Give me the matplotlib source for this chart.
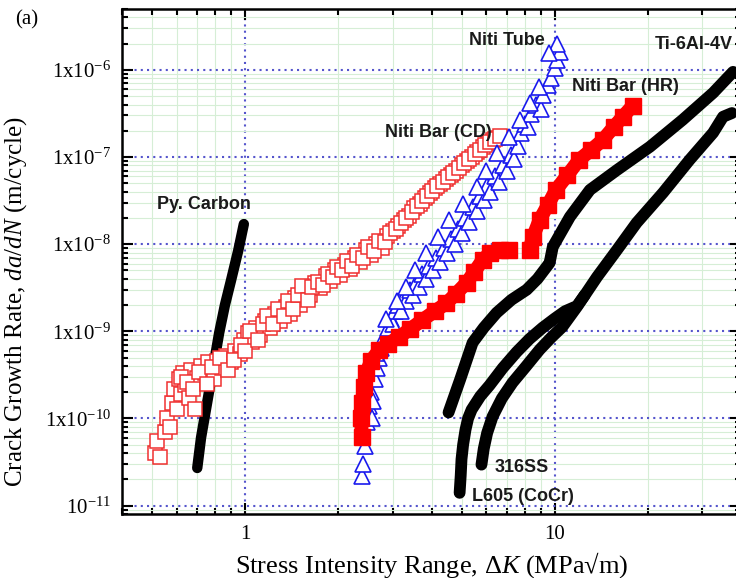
import matplotlib
matplotlib.use('Agg')
import matplotlib.pyplot as plt
from matplotlib.ticker import LogLocator, FixedLocator, FixedFormatter, NullFormatter

plt.rcParams['mathtext.fontset'] = 'custom'
plt.rcParams['mathtext.rm'] = 'Liberation Serif'
plt.rcParams['mathtext.it'] = 'Liberation Serif:italic'

# crack growth data, dK in MPa*sqrt(m), da/dN in m/cycle
py_dk = [0.70, 0.72, 0.753, 0.79, 0.824, 0.86, 0.901, 0.95, 0.99]
py_rate = [2.7e-11, 6.0e-11, 1.5e-10, 4.0e-10, 9.6e-10, 2.0e-9, 3.9e-9, 8.5e-9, 1.7e-8]

cd_dk = [0.51, 0.52, 0.53, 0.55, 0.56, 0.57, 0.58, 0.59, 0.60, 0.61, 0.62, 0.63,
         0.64, 0.66, 0.67, 0.69, 0.70, 0.72, 0.74, 0.76, 0.79, 0.81, 0.84, 0.87,
         0.90, 0.93, 0.96, 0.99, 1.02, 1.05, 1.08, 1.12, 1.16, 1.20, 1.25, 1.30,
         1.35, 1.40, 1.45, 1.50, 1.56, 1.62, 1.68, 1.75, 1.82, 1.88, 1.95, 2.02,
         2.10, 2.18, 2.26, 2.35, 2.45, 2.55, 2.65, 2.76, 2.88, 3.00, 3.12, 3.25,
         3.38, 3.52, 3.66, 3.80, 3.95, 4.10, 4.27, 4.44, 4.62, 4.80, 5.00, 5.20,
         5.40, 5.62, 5.85, 6.08, 6.30, 6.55, 6.80,
         0.62, 0.65, 0.68, 0.71, 0.75, 0.78, 0.83, 0.88, 0.92, 0.97, 1.00, 1.04,
         1.10, 1.14, 1.18, 1.23, 1.28, 1.33, 1.38, 1.43, 1.48, 1.53, 1.59, 1.65,
         1.72, 1.78, 1.85, 1.92, 1.98, 2.06, 2.14, 2.22, 2.30, 2.40, 2.50, 2.60,
         2.70, 2.82, 2.94, 3.06, 3.18, 3.31, 3.45, 3.59, 3.73, 3.88, 4.02, 4.18,
         4.35, 4.53, 4.71, 4.90, 5.10, 5.30, 5.51, 5.74, 5.96, 6.19, 6.42, 6.68]
cd_rate = [4.0e-11, 5.5e-11, 3.6e-11, 7.0e-11, 1.0e-10, 8.0e-11, 1.5e-10, 2.2e-10,
           1.3e-10, 2.8e-10, 1.9e-10, 3.3e-10, 2.4e-10, 1.7e-10, 3.6e-10, 1.3e-10,
           2.9e-10, 4.0e-10, 3.3e-10, 4.5e-10, 2.8e-10, 4.6e-10, 3.8e-10, 5.2e-10,
           4.4e-10, 6.0e-10, 5.5e-10, 8.0e-10, 9.5e-10, 7.5e-10, 1.1e-9, 9.0e-10,
           1.3e-9, 1.1e-9, 1.6e-9, 1.3e-9, 1.9e-9, 1.6e-9, 2.4e-9, 2.0e-9, 3.0e-9,
           2.6e-9, 3.6e-9, 3.1e-9, 4.3e-9, 3.8e-9, 5.0e-9, 4.4e-9, 5.8e-9, 5.2e-9,
           7.0e-9, 6.2e-9, 8.5e-9, 7.6e-9, 1.0e-8, 9.0e-9, 1.25e-8, 1.4e-8, 1.6e-8,
           1.9e-8, 2.1e-8, 2.6e-8, 2.9e-8, 3.4e-8, 3.9e-8, 4.4e-8, 4.9e-8, 5.6e-8,
           6.2e-8, 7.0e-8, 8.0e-8, 9.0e-8, 1.0e-7, 1.15e-7, 1.3e-7, 1.45e-7, 1.55e-7,
           1.65e-7, 1.7e-7,
           3.0e-10, 2.6e-10, 2.2e-10, 3.4e-10, 2.5e-10, 3.9e-10, 4.9e-10, 3.6e-10,
           4.7e-10, 7.0e-10, 6.0e-10, 1.0e-9, 8.0e-10, 1.2e-9, 1.5e-9, 1.2e-9,
           1.8e-9, 1.5e-9, 2.2e-9, 1.8e-9, 2.6e-9, 3.3e-9, 2.3e-9, 3.2e-9, 3.7e-9,
           3.4e-9, 4.6e-9, 4.2e-9, 5.4e-9, 5.0e-9, 6.4e-9, 5.6e-9, 7.6e-9, 7.0e-9,
           9.4e-9, 8.4e-9, 1.1e-8, 1.05e-8, 1.35e-8, 1.5e-8, 1.75e-8, 2.0e-8,
           2.35e-8, 2.75e-8, 3.1e-8, 3.6e-8, 4.1e-8, 4.6e-8, 5.2e-8, 5.9e-8, 6.6e-8,
           7.5e-8, 8.5e-8, 9.5e-8, 1.08e-7, 1.22e-7, 1.38e-7, 1.5e-7, 1.6e-7, 1.75e-7]

tube_dk = [2.39, 2.40, 2.43, 2.47, 2.52, 2.55, 2.58, 2.62, 2.66, 2.70, 2.74, 2.80,
           2.85, 2.90, 2.95, 3.00, 3.05, 3.12, 3.18, 3.25, 3.32, 3.40, 3.48, 3.56,
           3.65, 3.74, 3.84, 3.94, 4.05, 4.15, 4.27, 4.39, 4.50, 4.62, 4.75, 4.88,
           5.00, 5.15, 5.30, 5.45, 5.60, 5.75, 5.90, 6.05, 6.20, 6.40, 6.60, 6.80,
           7.00, 7.20, 7.40, 7.60, 7.80, 8.00, 8.20, 8.40, 8.70, 9.00, 9.20, 9.50,
           9.70, 10.0, 10.2, 10.4, 10.2,
           2.56, 2.65, 2.86, 3.10, 3.31, 3.55, 3.85, 4.20, 4.57, 5.05, 5.60, 6.00,
           6.50, 7.10, 7.70, 8.30, 8.90, 9.60]
tube_rate = [2.2e-11, 3.0e-11, 4.8e-11, 9.0e-11, 1.4e-10, 2.0e-10, 1.6e-10, 2.8e-10,
             3.8e-10, 5.0e-10, 6.5e-10, 8.5e-10, 7.5e-10, 1.1e-9, 1.4e-9, 1.2e-9,
             1.7e-9, 2.0e-9, 1.7e-9, 2.5e-9, 2.2e-9, 3.0e-9, 2.6e-9, 3.6e-9, 3.2e-9,
             4.5e-9, 4.0e-9, 5.6e-9, 5.0e-9, 7.0e-9, 6.2e-9, 9.0e-9, 8.0e-9, 1.15e-8,
             1.0e-8, 1.5e-8, 1.35e-8, 2.0e-8, 1.8e-8, 2.7e-8, 2.4e-8, 3.6e-8, 3.2e-8,
             4.6e-8, 4.0e-8, 6.0e-8, 5.2e-8, 8.0e-8, 7.0e-8, 1.05e-7, 9.5e-8, 1.35e-7,
             1.9e-7, 2.4e-7, 2.2e-7, 3.1e-7, 4.0e-7, 3.6e-7, 5.2e-7, 6.8e-7, 8.0e-7,
             1.05e-6, 1.3e-6, 1.6e-6, 2.0e-6,
             1.0e-10, 5.7e-10, 1.37e-9, 2.2e-9, 3.25e-9, 5.0e-9, 7.9e-9, 1.2e-8,
             1.9e-8, 2.9e-8, 4.5e-8, 7.0e-8, 1.1e-7, 1.7e-7, 2.67e-7, 4.2e-7, 6.4e-7,
             1.57e-6]

hr_dk_lo = [2.38, 2.37, 2.38, 2.42, 2.46, 2.55, 2.71, 2.90, 3.15, 3.40, 3.74, 4.10,
            4.47, 4.80, 5.19, 5.50, 5.85, 6.20, 6.64, 7.10]
hr_rate_lo = [6.2e-11, 1.0e-10, 1.5e-10, 2.3e-10, 3.3e-10, 4.6e-10, 6.1e-10, 7.2e-10,
              8.7e-10, 1.05e-9, 1.35e-9, 1.7e-9, 2.1e-9, 2.7e-9, 3.6e-9, 4.8e-9,
              6.6e-9, 8.0e-9, 8.6e-9, 8.6e-9]
hr_dk_hi = [8.3, 8.5, 8.94, 9.5, 10.1, 11.0, 12.0, 13.1, 14.3, 15.5, 16.6, 17.9]
hr_rate_hi = [8.6e-9, 1.2e-8, 1.9e-8, 2.8e-8, 4.2e-8, 6.2e-8, 9.3e-8, 1.2e-7, 1.57e-7,
              2.2e-7, 2.9e-7, 3.9e-7]

ti_dk = [4.54, 4.95, 5.43, 5.90, 6.49, 7.25, 8.12, 8.80, 9.42, 9.63, 9.86, 11.2,
         13.0, 15.9, 20.3, 25.9, 32.5, 37.7]
ti_rate = [1.17e-10, 2.8e-10, 7.4e-10, 1.1e-9, 1.63e-9, 2.3e-9, 3.0e-9, 4.0e-9,
           5.5e-9, 6.1e-9, 9.3e-9, 2.06e-8, 4.2e-8, 7.1e-8, 1.31e-7, 2.67e-7,
           5.45e-7, 9.5e-7]

l605_dk = [4.93, 4.97, 5.00, 5.06, 5.15, 5.25, 5.39, 5.75, 6.16, 6.80, 7.54, 8.30,
           9.14, 10.0, 10.8, 11.8, 12.5]
l605_rate = [1.4e-11, 2.2e-11, 3.4e-11, 5.0e-11, 7.4e-11, 1.0e-10, 1.26e-10, 1.8e-10,
             2.4e-10, 3.8e-10, 5.8e-10, 8.2e-10, 1.1e-9, 1.4e-9, 1.7e-9, 1.95e-9,
             2.6e-9]

ss_dk = [5.80, 5.90, 6.05, 6.30, 6.75, 7.31, 8.10, 8.94, 9.75, 10.6, 11.8, 13.7,
         15.9, 18.4, 22.4, 27.3, 32.5, 35.0, 37.4]
ss_rate = [2.95e-11, 4.5e-11, 6.8e-11, 1.05e-10, 1.7e-10, 2.58e-10, 4.0e-10, 6.15e-10,
           8.5e-10, 1.13e-9, 1.91e-9, 4.2e-9, 8.6e-9, 1.76e-8, 3.9e-8, 9.3e-8, 1.9e-7,
           2.9e-7, 3.2e-7]

y_ticks = [1e-11, 1e-10, 1e-9, 1e-8, 1e-7, 1e-6]
y_labels = [r'$\mathregular{10^{-11}}$', r'$\mathregular{1x10^{-10}}$',
            r'$\mathregular{1x10^{-9}}$', r'$\mathregular{1x10^{-8}}$',
            r'$\mathregular{1x10^{-7}}$', r'$\mathregular{1x10^{-6}}$']
x_ticks = [1, 10]
x_labels = ['1', '10']

fig = plt.figure(figsize=(7.36, 5.78), dpi=100)
ax = fig.add_axes([0.1658, 0.1107, 0.841, 0.8737])
ax.set_xscale('log')
ax.set_yscale('log')
ax.set_xlim(0.4, 40)
ax.set_ylim(8e-12, 5e-6)

black = dict(color='black', lw=8.5, solid_capstyle='round', solid_joinstyle='round')
ax.plot(py_dk, py_rate, zorder=3, color='black', lw=7.5, solid_capstyle='round')
ax.plot(cd_dk, cd_rate, ls='none', marker='s', ms=9.5, mfc='white', mec='#f03030',
        mew=1.1, zorder=4)
ax.plot(tube_dk, tube_rate, ls='none', marker='^', ms=11, mfc='white', mec='#1a1aee',
        mew=1.2, zorder=5)
for xs, ys in [(hr_dk_lo, hr_rate_lo), (hr_dk_hi, hr_rate_hi)]:
    ax.plot(xs, ys, color='#ff0000', lw=10, solid_capstyle='butt', zorder=6)
    ax.plot(xs, ys, ls='none', marker='s', ms=11, color='#ff0000', zorder=6)
for xs, ys in [(ti_dk, ti_rate), (l605_dk, l605_rate), (ss_dk, ss_rate)]:
    ax.plot(xs, ys, zorder=7, **black)

# grid: light green minor, blue dotted major
ax.xaxis.set_minor_locator(LogLocator(base=10, subs=range(2, 10)))
ax.yaxis.set_minor_locator(LogLocator(base=10, subs=range(2, 10)))
ax.grid(which='minor', color='#d6eed6', lw=0.8, ls='-', zorder=0)
ax.grid(which='major', color='#5555cc', lw=1.5, ls=(0, (1, 2)), zorder=1)

ax.xaxis.set_major_locator(FixedLocator(x_ticks))
ax.xaxis.set_major_formatter(FixedFormatter(x_labels))
ax.yaxis.set_major_locator(FixedLocator(y_ticks))
ax.yaxis.set_major_formatter(FixedFormatter(y_labels))
ax.xaxis.set_minor_formatter(NullFormatter())
ax.yaxis.set_minor_formatter(NullFormatter())
ax.tick_params(which='both', direction='in', top=True, right=True, width=1.5,
               labelsize=15, labelfontfamily='Liberation Serif', pad=8)
ax.tick_params(which='major', length=8)
ax.tick_params(which='minor', length=4.5)
for sp in ax.spines.values():
    sp.set_linewidth(1.8)

serif = ['Liberation Serif', 'DejaVu Serif']
ax.set_xlabel(r'Stress Intensity Range, $\Delta\mathit{K}$ (MPa√m)', family=serif,
              fontsize=19, labelpad=4)
ax.set_ylabel(r'Crack Growth Rate, $\mathit{da/dN}$ (m/cycle)', family=serif,
              fontsize=18)
ax.yaxis.set_label_coords(-0.151, 0.42)
fig.text(0.02, 0.965, '(a)', family=serif, fontsize=15, va='center')

lab = dict(family='Liberation Sans', fontweight='bold', fontsize=13, color='#1a1a1a',
           va='center', zorder=8)
ax.text(0.519, 2.83e-8, 'Py. Carbon', ha='left', **lab)
ax.text(9.28, 2.2e-6, 'Niti Tube', ha='right', **lab)
ax.text(37.5, 1.95e-6, 'Ti-6Al-4V', ha='right', **lab)
ax.text(11.4, 6.4e-7, 'Niti Bar (HR)', ha='left', **lab)
ax.text(6.25, 1.9e-7, 'Niti Bar (CD)', ha='right', **lab)
ax.text(6.40, 2.73e-11, '316SS', ha='left', **lab)
ax.text(5.39, 1.27e-11, 'L605 (CoCr)', ha='left', **lab)

fig.savefig('out.png', dpi=100)
